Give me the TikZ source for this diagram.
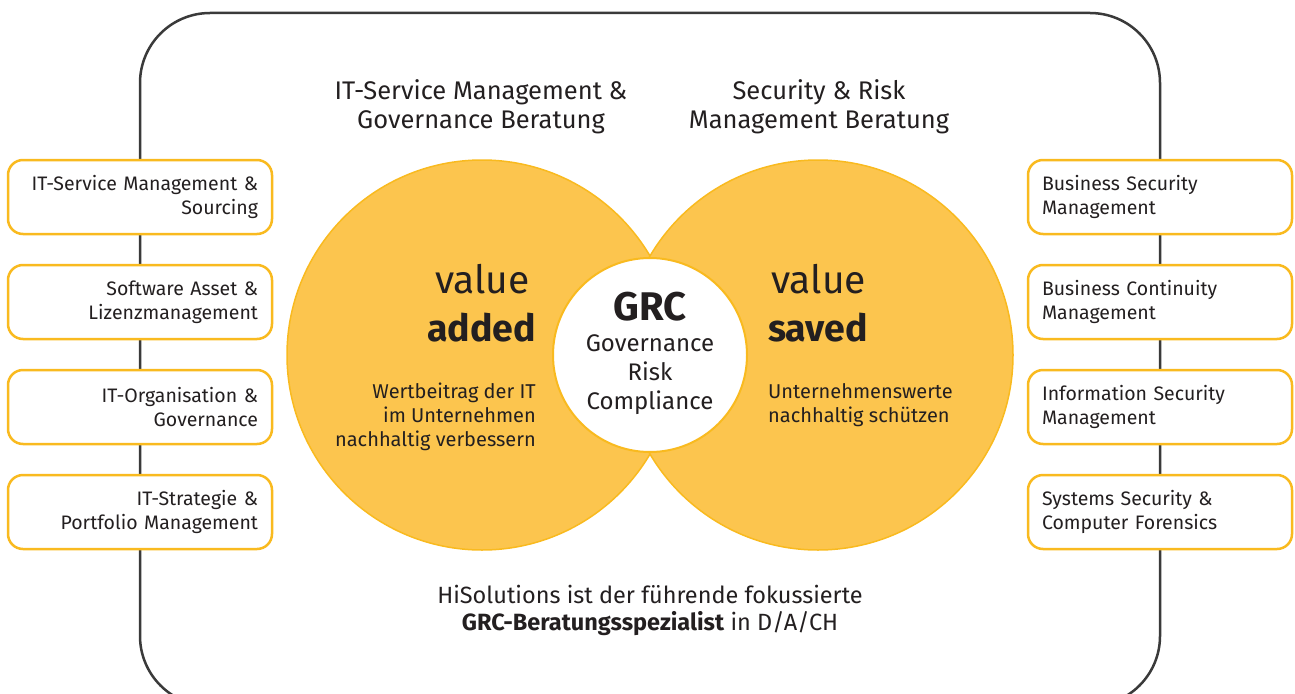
\documentclass[tikz,border=0pt]{standalone}
\usepackage{fontspec}
\setmainfont{Fira Sans}
\usepackage{tikz}
\usetikzlibrary{positioning}
\definecolor{hYellow}{HTML}{FCC54E}
\definecolor{hGold}{HTML}{F9BA1F}
\definecolor{hInk}{HTML}{231F20}
\definecolor{hFrame}{HTML}{3A3A3A}
\tikzset{
  svcbox/.style={draw=hGold, line width=2.5pt, fill=white, rounded corners=15pt,
    minimum width=264pt, minimum height=74pt, text width=236pt, inner sep=0pt,
    font=\fontsize{19.5}{24}\selectfont, text=hInk},
  leftsvc/.style={svcbox, align=right},
  rightsvc/.style={svcbox, align=left},
  head/.style={font=\fontsize{25.5}{29}\selectfont, align=center, text=hInk},
  lens/.style={circle, fill=hYellow, draw=hGold, line width=1.5pt, minimum size=390pt},
}

\begin{document}
\begin{tikzpicture}[x=1pt, y=-1pt,
    big/.style={font=\fontsize{39}{48}\selectfont, text=hInk, inner sep=0pt},
    bigb/.style={font=\fontsize{37.5}{48}\selectfont\bfseries, text=hInk, inner sep=0pt},
    small/.style={font=\fontsize{20}{24}\selectfont, text=hInk, inner sep=0pt}]
  \useasboundingbox (0,0) rectangle (1295,693);
  \clip (0,0) rectangle (1295,693);
  % frame behind everything
  \draw[hFrame, line width=2.5pt, rounded corners=70pt] (140,13) rectangle (1160,706);

  % headings (base = last line)
  \node[head, anchor=base] (hitsm) at (481,128) {IT-Service Management \&\\Governance Beratung};
  \node[head, anchor=base] (hsec) at (819,128) {Security \& Risk\\Management Beratung};

  % the two circles and GRC in the middle
  \node[lens] (added) at (482,355) {};
  \node[lens] (saved) at (818,355) {};
  \node[circle, fill=white, draw=hGold, line width=2pt, minimum size=194pt] (grc) at (650,355) {};

  \node[big, anchor=base east] (vadd) at (530,293) {value};
  \node[bigb, anchor=base east] (vadd2) at (536,341) {added};
  \node[small, anchor=base east, align=right] (tadd) at (536,446)
    {Wertbeitrag der IT\\im Unternehmen\\nachhaltig verbessern};

  \node[big, anchor=base west] (vsav) at (771,293) {value};
  \node[bigb, anchor=base west] (vsav2) at (768,341) {saved};
  \node[small, anchor=base west, align=left] (tsav) at (768,422)
    {Unternehmenswerte\\nachhaltig schützen};

  \node[anchor=base, text=hInk, font=\fontsize{40}{40}\selectfont\bfseries] (grct) at (650,320) {GRC};
  \node[anchor=base, text=hInk, align=center, font=\fontsize{24}{29}\selectfont] (grcl) at (650,409)
    {Governance\\Risk\\Compliance};

  % service boxes, left
  \node[leftsvc] (l1) at (140,197) {IT-Service Management \&\\Sourcing};
  \node[leftsvc] (l2) at (140,302) {Software Asset \&\\Lizenzmanagement};
  \node[leftsvc] (l3) at (140,407) {IT-Organisation \&\\Governance};
  \node[leftsvc] (l4) at (140,512) {IT-Strategie \&\\Portfolio Management};
  % service boxes, right
  \node[rightsvc] (r1) at (1160,197) {Business Security\\Management};
  \node[rightsvc] (r2) at (1160,302) {Business Continuity\\Management};
  \node[rightsvc] (r3) at (1160,407) {Information Security\\Management};
  \node[rightsvc] (r4) at (1160,512) {Systems Security \&\\Computer Forensics};

  % claim at the bottom
  \node[anchor=base, align=center, text=hInk, font=\fontsize{23.5}{27}\selectfont] (claim) at (650,630)
    {HiSolutions ist der führende fokussierte\\\textbf{GRC-Beratungsspezialist} in D/A/CH};
\end{tikzpicture}
\end{document}
